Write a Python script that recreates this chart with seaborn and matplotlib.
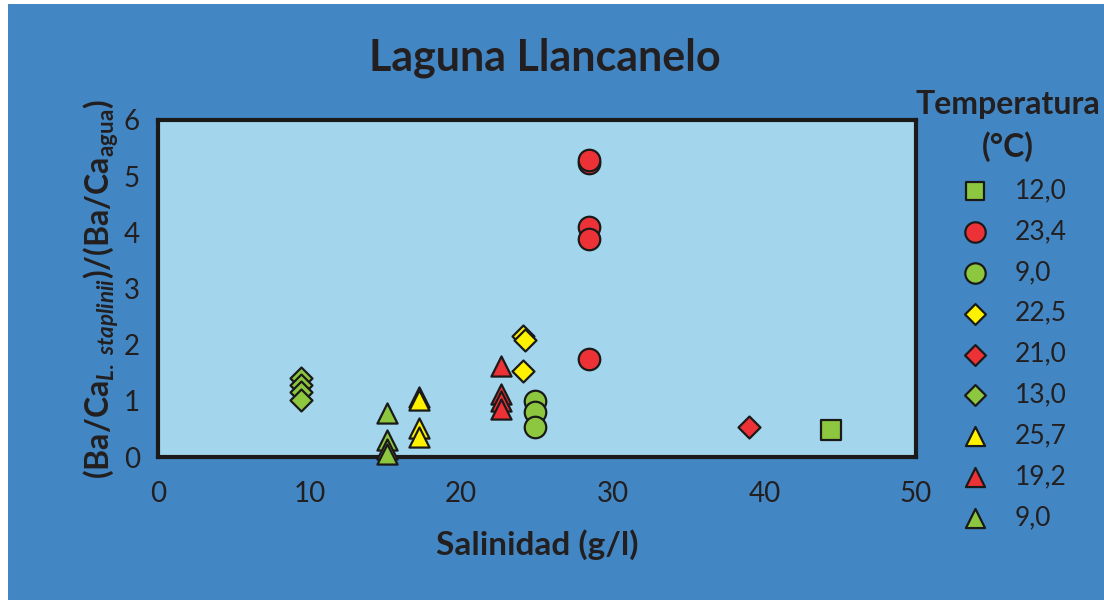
import numpy as np
import pandas as pd
import seaborn as sns
import matplotlib.pyplot as plt
from matplotlib.patches import Rectangle

# data
labels = ["12,0", "23,4", "9,0", "22,5", "21,0", "13,0", "25,7", "19,2", "9,0"]
markers = ["s", "o", "o", "D", "D", "D", "^", "^", "^"]
colors = ["#8DC63F", "#ED3237", "#8DC63F", "#FFF200", "#ED3237", "#8DC63F", "#FFF200", "#ED3237", "#8DC63F"]

sal_12_0 = [44.4]
ba_12_0 = [0.48]
sal_23_4 = [28.4, 28.4, 28.4, 28.4, 28.4]
ba_23_4 = [5.24, 5.28, 4.10, 3.88, 1.74]
sal_9_0c = [24.9, 24.9, 24.9]
ba_9_0c = [1.00, 0.80, 0.53]
sal_22_5 = [24.1, 24.2, 24.1]
ba_22_5 = [2.15, 2.08, 1.54]
sal_21_0 = [39.0]
ba_21_0 = [0.54]
sal_13_0 = [9.46, 9.46, 9.46, 9.46]
ba_13_0 = [1.40, 1.28, 1.15, 1.01]
sal_25_7 = [17.2, 17.2, 17.2, 17.2]
ba_25_7 = [1.07, 1.01, 0.52, 0.35]
sal_19_2 = [22.6, 22.6, 22.6, 22.6]
ba_19_2 = [1.62, 1.12, 1.00, 0.86]
sal_9_0t = [15.1, 15.1, 15.1, 15.1]
ba_9_0t = [0.78, 0.30, 0.14, 0.05]

sal = [sal_12_0, sal_23_4, sal_9_0c, sal_22_5, sal_21_0, sal_13_0, sal_25_7, sal_19_2, sal_9_0t]
ba = [ba_12_0, ba_23_4, ba_9_0c, ba_22_5, ba_21_0, ba_13_0, ba_25_7, ba_19_2, ba_9_0t]

rows = []
for g, (xs, ys) in enumerate(zip(sal, ba)):
    for x, y in zip(xs, ys):
        rows.append({"grupo": g, "Salinidad": x, "BaCa": y})
df = pd.DataFrame(rows)

sns.set_style("white")
font = "Lato"
txt = "#231F20"
plt.rcParams["font.family"] = [font, "DejaVu Sans"]
plt.rcParams["mathtext.fontset"] = "custom"
plt.rcParams["mathtext.rm"] = font + ":bold"
plt.rcParams["mathtext.it"] = font + ":italic:bold"

fig = plt.figure(figsize=(11.04, 6), dpi=100)
fig.patch.set_facecolor("white")
fig.add_artist(Rectangle((8 / 1104, 0), 1, 596 / 600, transform=fig.transFigure,
                         facecolor="#4287C3", edgecolor="none", zorder=0))

ax = fig.add_axes([158 / 1104, 143 / 600, 758 / 1104, 337 / 600])
ax.set_facecolor("#A3D5EC")

sizes = {"s": 200, "o": 240, "D": 125, "^": 210}
for g in range(len(labels)):
    sub = df[df["grupo"] == g]
    sns.scatterplot(data=sub, x="Salinidad", y="BaCa", ax=ax, marker=markers[g],
                    color=colors[g], s=sizes[markers[g]], edgecolor="#1a1a1a",
                    linewidth=1.6, label=labels[g], zorder=5, clip_on=False)

ax.set_xlim(0, 50)
ax.set_ylim(0, 6)
ax.set_xticks(range(0, 51, 10))
ax.set_yticks(range(0, 7))
for side in ["top", "right", "left", "bottom"]:
    ax.spines[side].set_color("#1a1a1a")
    ax.spines[side].set_linewidth(3)
ax.tick_params(direction="out", length=7, width=2.5, color="#1a1a1a",
               labelsize=20, labelcolor=txt, pad=6)
ax.tick_params(axis="x", pad=10)

ax.set_xlabel("Salinidad (g/l)", fontsize=24, fontweight="bold", color=txt, labelpad=16)
ax.set_ylabel(r"(Ba/Ca$_{\mathit{L.\ staplinii}}$)/(Ba/Ca$_{\mathrm{agua}}$)",
              fontsize=23, fontweight="bold", color=txt, labelpad=2)

fig.text(545 / 1104, 1 - 58 / 600, "Laguna Llancanelo", ha="center", va="center",
         fontsize=31, fontweight="bold", color=txt)

handles, labs = ax.get_legend_handles_labels()
ax.get_legend().remove()
leg = fig.legend(handles, labs, loc="upper center", bbox_to_anchor=(1008 / 1104, 1 - 66 / 600),
                 frameon=False, title="Temperatura\n(°C)", fontsize=19,
                 labelspacing=0.6, handletextpad=0.5, markerscale=0.95,
                 title_fontproperties={"size": 23, "weight": "bold", "family": font})
for t in leg.get_texts():
    t.set_color(txt)
leg.get_title().set_color(txt)
leg.get_title().set_multialignment("center")
leg.get_title().set_linespacing(1.5)

fig.savefig("out.png", dpi=100)
